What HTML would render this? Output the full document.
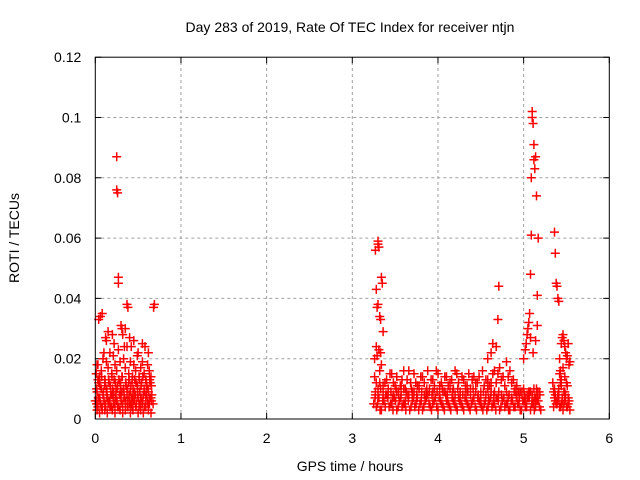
<!DOCTYPE html>
<html><head><meta charset="utf-8"><style>
body{margin:0;background:#fff}
svg{display:block;font-family:"Liberation Sans",sans-serif}
</style></head><body>
<svg id="chart" width="640" height="480" viewBox="0 0 640 480" xmlns="http://www.w3.org/2000/svg">
<text x="350" y="32" font-size="14" text-anchor="middle">Day 283 of 2019, Rate Of TEC Index for receiver ntjn</text>
<g id="grid"></g>
<g id="ticks"></g>
<g id="marks"></g>
<rect x="95.3" y="57.2" width="514" height="361.8" fill="none" stroke="#000" stroke-width="1"/>
<text x="350" y="471" font-size="14" text-anchor="middle">GPS time / hours</text>
<text transform="translate(19,238) rotate(-90)" font-size="14" text-anchor="middle">ROTI / TECUs</text>
</svg>
<script>
const xTicks=[0,1,2,3,4,5,6];
const xTickLabels=["0","1","2","3","4","5","6"];
const yTicks=[0,0.02,0.04,0.06,0.08,0.1,0.12];
const yTickLabels=["0","0.02","0.04","0.06","0.08","0.1","0.12"];
const hours=[
0.01,0.02,0.03,0.04,0.05,0.06,0.07,0.08,0.09,0.1,0.11,0.12,0.13,0.14,0.15,0.16,0.17,0.18,0.19,0.2,0.21,0.22,0.23,0.24,0.25,0.26,0.27,0.28,0.29,0.3,0.31,0.32,0.33,0.34,0.35,0.36,0.37,0.38,0.39,0.4,0.41,0.42,0.43,0.44,0.45,0.46,0.47,0.48,0.49,0.5,0.51,0.52,0.53,0.54,0.55,0.56,0.57,0.58,0.59,0.6,0.61,0.62,0.63,0.64,0.65,0.66,
0.01,0.03,0.05,0.07,0.09,0.11,0.13,0.15,0.17,0.19,0.21,0.23,0.25,0.27,0.29,0.31,0.33,0.35,0.37,0.39,0.41,0.43,0.45,0.47,0.49,0.51,0.53,0.55,0.57,0.59,0.61,0.63,0.65,
0.02,0.05,0.08,0.11,0.14,0.17,0.2,0.23,0.26,0.29,0.32,0.35,0.38,0.41,0.44,0.47,0.5,0.53,0.56,0.59,0.62,0.65,
0.015,0.035,0.055,0.075,0.095,0.115,0.135,0.155,0.175,0.195,0.215,0.235,0.255,0.275,0.295,0.315,0.335,0.355,0.375,0.395,0.415,0.435,0.455,0.475,0.495,0.515,0.535,0.555,0.575,0.595,0.615,0.635,0.655,0.675,
0.015,0.035,0.055,0.075,0.095,0.115,0.135,0.155,0.175,0.195,0.215,0.235,0.255,0.275,0.295,0.315,0.335,0.355,0.375,0.395,0.415,0.435,0.455,0.475,0.495,0.515,0.535,0.555,0.575,0.595,0.615,0.635,0.655,
0.04,0.06,0.08,0.12,0.13,0.25,0.25,0.26,0.27,0.27,0.3,0.31,0.35,0.37,0.38,0.68,0.69,0.34,0.4,0.2,0.15,0.55,0.58,0.62,0.45,0.1,0.02,0.0,0.03,0.22,0.32,0.42,0.5,
3.25,3.28,3.31,3.34,3.37,3.4,3.43,3.46,3.49,3.52,3.55,3.58,3.61,3.64,3.67,3.7,3.73,3.76,3.79,3.82,3.85,3.88,3.91,3.94,3.97,4.0,4.03,4.06,4.09,4.12,4.15,4.18,4.21,4.24,4.27,4.3,4.33,4.36,4.39,4.42,4.45,4.48,4.51,4.54,4.57,4.6,4.63,4.66,4.69,4.72,4.75,4.78,4.81,4.84,4.87,4.9,4.93,4.96,4.99,5.02,5.05,5.08,5.11,5.14,5.17,5.2,
3.265,3.295,3.325,3.355,3.385,3.415,3.445,3.475,3.505,3.535,3.565,3.595,3.625,3.655,3.685,3.715,3.745,3.775,3.805,3.835,3.865,3.895,3.925,3.955,3.985,4.015,4.045,4.075,4.105,4.135,4.165,4.195,4.225,4.255,4.285,4.315,4.345,4.375,4.405,4.435,4.465,4.495,4.525,4.555,4.585,4.615,4.645,4.675,4.705,4.735,4.765,4.795,4.825,4.855,4.885,4.915,4.945,4.975,5.005,5.035,5.065,5.095,5.125,5.155,5.185,
3.27,3.3,3.33,3.36,3.39,3.42,3.45,3.48,3.51,3.54,3.57,3.6,3.63,3.66,3.69,3.72,3.75,3.78,3.81,3.84,3.87,3.9,3.93,3.96,3.99,4.02,4.05,4.08,4.11,4.14,4.17,4.2,4.23,4.26,4.29,4.32,4.35,4.38,4.41,4.44,4.47,4.5,4.53,4.56,4.59,4.62,4.65,4.68,4.71,4.74,4.77,4.8,4.83,4.86,4.89,4.92,4.95,4.98,5.01,5.04,5.07,5.1,5.13,5.16,5.19,
3.26,3.3,3.34,3.38,3.42,3.46,3.5,3.54,3.58,3.62,3.66,3.7,3.74,3.78,3.82,3.86,3.9,3.94,3.98,4.02,4.06,4.1,4.14,4.18,4.22,4.26,4.3,4.34,4.38,4.42,4.46,4.5,4.54,4.58,4.62,4.66,4.7,4.74,4.78,4.82,4.86,4.9,4.94,4.98,5.02,5.06,5.1,5.14,5.18,
3.28,3.32,3.36,3.4,3.44,3.48,3.52,3.56,3.6,3.64,3.68,3.72,3.76,3.8,3.84,3.88,3.92,3.96,4.0,4.04,4.08,4.12,4.16,4.2,4.24,4.28,4.32,4.36,4.4,4.44,4.48,4.52,4.56,4.6,4.64,4.68,4.72,4.76,4.8,4.84,4.88,4.92,4.96,5.0,5.04,5.08,5.12,5.16,
3.27,3.32,3.37,3.42,3.47,3.52,3.57,3.62,3.7,3.78,3.86,3.94,4.02,4.1,4.18,4.26,4.34,4.42,4.5,4.58,4.66,4.74,4.82,4.9,4.98,5.06,5.12,5.16,
3.28,3.3,3.3,3.31,3.27,3.29,3.32,3.33,3.34,3.35,3.3,3.28,3.31,3.36,3.29,3.33,3.26,
4.71,4.7,4.64,4.62,4.58,4.68,
5.0,5.02,5.03,5.04,5.05,5.06,5.07,5.08,5.09,5.1,5.1,5.11,5.12,5.12,5.13,5.14,5.15,5.16,5.16,5.17,5.09,5.11,5.08,5.14,5.15,
5.34,5.36,5.37,5.38,5.39,5.4,5.41,5.42,5.43,5.44,5.45,5.46,5.47,5.48,5.49,5.5,5.51,5.52,5.53,5.54,5.36,5.38,5.4,5.42,5.44,5.46,5.48,5.5,5.52,5.54,5.35,5.37,5.39,5.41,5.43,5.45,5.47,5.49,5.51,5.53,5.42,5.44,5.46,5.48,5.5,
5.35,5.37,5.39,5.41,5.43,5.45,5.47,5.49,5.51,5.53,5.36,5.4,5.44,5.48,5.52
];
const roti=[
0.006,0.009,0.004,0.012,0.007,0.005,0.010,0.003,0.008,0.006,0.011,0.004,0.009,0.007,0.005,0.012,0.006,0.008,0.004,0.010,0.007,0.013,0.005,0.009,0.006,0.011,0.004,0.008,0.012,0.006,0.009,0.005,0.010,0.007,0.004,0.011,0.008,0.006,0.012,0.005,0.009,0.007,0.004,0.010,0.006,0.013,0.008,0.005,0.011,0.007,0.004,0.009,0.006,0.012,0.005,0.008,0.010,0.004,0.007,0.011,0.006,0.009,0.005,0.012,0.007,0.008,
0.015,0.018,0.014,0.016,0.020,0.013,0.019,0.017,0.022,0.015,0.021,0.018,0.016,0.023,0.019,0.014,0.020,0.017,0.024,0.015,0.019,0.013,0.018,0.016,0.021,0.014,0.017,0.019,0.015,0.013,0.018,0.016,0.014,
0.003,0.002,0.004,0.003,0.002,0.004,0.003,0.002,0.004,0.003,0.002,0.003,0.004,0.002,0.003,0.004,0.002,0.003,0.002,0.004,0.003,0.002,
0.005,0.007,0.006,0.004,0.008,0.005,0.007,0.006,0.004,0.008,0.005,0.007,0.006,0.004,0.008,0.005,0.007,0.006,0.004,0.008,0.005,0.007,0.006,0.004,0.008,0.005,0.007,0.006,0.004,0.008,0.005,0.007,0.006,0.005,
0.010,0.013,0.011,0.014,0.009,0.012,0.010,0.013,0.011,0.014,0.009,0.012,0.010,0.013,0.011,0.014,0.009,0.012,0.010,0.013,0.011,0.014,0.009,0.012,0.010,0.013,0.011,0.014,0.009,0.012,0.010,0.013,0.011,
0.033,0.034,0.035,0.027,0.026,0.087,0.076,0.075,0.047,0.045,0.031,0.030,0.030,0.038,0.037,0.037,0.038,0.024,0.027,0.028,0.029,0.025,0.024,0.022,0.026,0.022,0.018,0.006,0.013,0.025,0.028,0.024,0.022,
0.005,0.004,0.007,0.003,0.006,0.008,0.004,0.005,0.007,0.003,0.006,0.004,0.005,0.008,0.003,0.006,0.004,0.007,0.005,0.003,0.006,0.008,0.004,0.005,0.007,0.003,0.006,0.004,0.008,0.005,0.003,0.006,0.004,0.007,0.005,0.003,0.006,0.004,0.005,0.007,0.003,0.006,0.004,0.005,0.003,0.006,0.004,0.005,0.007,0.003,0.006,0.004,0.005,0.003,0.006,0.004,0.005,0.003,0.006,0.004,0.007,0.003,0.005,0.004,0.006,0.003,
0.007,0.005,0.003,0.006,0.004,0.007,0.005,0.003,0.006,0.004,0.007,0.005,0.003,0.006,0.004,0.007,0.005,0.003,0.006,0.004,0.007,0.005,0.003,0.006,0.004,0.007,0.005,0.003,0.006,0.004,0.007,0.005,0.003,0.006,0.004,0.007,0.005,0.003,0.006,0.004,0.007,0.005,0.003,0.006,0.004,0.007,0.005,0.003,0.006,0.004,0.007,0.005,0.003,0.006,0.004,0.007,0.005,0.003,0.006,0.004,0.007,0.005,0.003,0.006,0.004,
0.009,0.008,0.010,0.009,0.008,0.010,0.009,0.008,0.010,0.009,0.008,0.010,0.009,0.008,0.010,0.009,0.008,0.010,0.009,0.008,0.010,0.009,0.008,0.010,0.009,0.008,0.010,0.009,0.008,0.010,0.009,0.008,0.010,0.009,0.008,0.010,0.009,0.008,0.010,0.009,0.008,0.007,0.009,0.008,0.007,0.009,0.008,0.007,0.009,0.008,0.007,0.009,0.008,0.007,0.009,0.008,0.007,0.009,0.008,0.007,0.009,0.008,0.007,0.009,0.008,
0.014,0.010,0.018,0.012,0.009,0.015,0.011,0.008,0.013,0.010,0.016,0.009,0.012,0.011,0.014,0.009,0.010,0.013,0.016,0.011,0.009,0.014,0.012,0.010,0.015,0.009,0.013,0.011,0.010,0.014,0.012,0.009,0.011,0.013,0.012,0.016,0.015,0.013,0.011,0.014,0.012,0.010,0.009,0.008,0.007,0.009,0.008,0.007,0.009,
0.012,0.016,0.011,0.013,0.015,0.012,0.014,0.011,0.016,0.013,0.012,0.015,0.011,0.014,0.012,0.016,0.013,0.011,0.015,0.012,0.014,0.011,0.013,0.016,0.012,0.014,0.011,0.015,0.013,0.012,0.014,0.016,0.013,0.011,0.015,0.012,0.017,0.014,0.019,0.016,0.013,0.011,0.009,0.010,0.008,0.009,0.010,0.008,
0.008,0.012,0.006,0.010,0.007,0.009,0.011,0.006,0.008,0.010,0.007,0.009,0.008,0.006,0.010,0.008,0.009,0.007,0.008,0.010,0.009,0.008,0.007,0.009,0.008,0.007,0.006,0.008,
0.043,0.059,0.058,0.057,0.056,0.037,0.034,0.033,0.047,0.045,0.038,0.024,0.023,0.029,0.021,0.022,0.020,
0.044,0.033,0.025,0.022,0.020,0.024,
0.020,0.023,0.025,0.028,0.030,0.032,0.035,0.048,0.061,0.102,0.100,0.098,0.091,0.086,0.083,0.087,0.074,0.041,0.031,0.060,0.080,0.022,0.027,0.026,0.010,
0.012,0.062,0.055,0.045,0.044,0.040,0.039,0.020,0.016,0.025,0.027,0.028,0.026,0.024,0.022,0.020,0.021,0.025,0.018,0.019,0.007,0.005,0.006,0.004,0.005,0.003,0.006,0.004,0.005,0.003,0.009,0.008,0.006,0.010,0.012,0.007,0.009,0.008,0.011,0.006,0.015,0.013,0.017,0.014,0.012,
0.004,0.006,0.005,0.007,0.004,0.006,0.005,0.007,0.004,0.006,0.010,0.008,0.011,0.009,0.007
];
const x0=95.3,x1=609.3,y0=419,y1=57.2;
const sx=v=>x0+(v-0)/(6-0)*(x1-x0);
const sy=v=>y0-(v-0)/(0.12-0)*(y0-y1);
const NS="http://www.w3.org/2000/svg";
const grid=document.getElementById('grid'),ticks=document.getElementById('ticks'),marks=document.getElementById('marks');
function mk(tag,attrs,parent){const e=document.createElementNS(NS,tag);for(const k in attrs)e.setAttribute(k,attrs[k]);parent.appendChild(e);return e;}
xTicks.forEach((t,i)=>{
 const x=sx(t);
 if(i>0&&i<xTicks.length-1){const g=mk('line',{x1:x,x2:x,y1:y0,y2:y1,stroke:'#a0a0a0','stroke-dasharray':'3,3'},grid);
 
 }
 const tm=mk('path',{d:`M${x},${y0}v-6M${x},${y1}v6`,stroke:'#000'},ticks);
 
 
 const l=mk('text',{x:x,y:y0+24,'font-size':14,'text-anchor':'middle'},ticks);l.textContent=xTickLabels[i];
 
 
});
yTicks.forEach((t,i)=>{
 const y=sy(t);
 if(i>0&&i<yTicks.length-1){const g=mk('line',{x1:x0,x2:x1,y1:y,y2:y,stroke:'#a0a0a0','stroke-dasharray':'3,3'},grid);
 
 }
 const tm=mk('path',{d:`M${x0},${y}h6M${x1},${y}h-6`,stroke:'#000'},ticks);
 
 
 const l=mk('text',{x:x0-14,y:y+5,'font-size':14,'text-anchor':'end'},ticks);l.textContent=yTickLabels[i];
 
 
});
let d='';
hours.forEach((h,i)=>{const x=sx(h),y=sy(roti[i]);d+=`M${(x-4.5).toFixed(1)},${y.toFixed(1)}h9M${x.toFixed(1)},${(y-4.5).toFixed(1)}v9`;});
const p=mk('path',{d:d,stroke:'#ff0000','stroke-width':1.5,fill:'none'},marks);


</script>
</body></html>
